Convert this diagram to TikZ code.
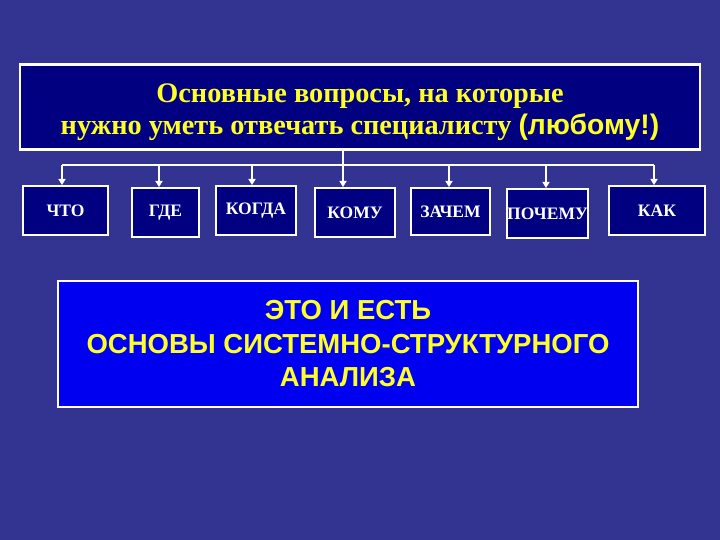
\documentclass[tikz,border=0pt]{standalone}
\usepackage{fontspec}
\setmainfont{Liberation Serif}
\newfontfamily\arialf{Liberation Sans}
\usetikzlibrary{arrows.meta}
\definecolor{bg}{RGB}{51,51,145}
\definecolor{navy}{RGB}{0,0,128}
\definecolor{brightblue}{RGB}{0,0,240}
\definecolor{ylw}{RGB}{255,255,40}
\begin{document}
\begin{tikzpicture}[x=1pt,y=-1pt,
  qbox/.style={draw=white, line width=2pt, fill=navy, text=white, inner sep=0pt,
    font=\bfseries\fontsize{17.5}{20}\selectfont},
  link/.style={draw=white, line width=2pt},
  arr/.style={link, -{Triangle[width=7pt,length=6pt]}}]
\fill[bg] (0,0) rectangle (720,540);
\useasboundingbox (0,0) rectangle (720,540);
\node[draw=white, line width=2.5pt, fill=navy, minimum width=680pt, minimum height=85pt] (top) at (360,107) {};
\node[align=center, text=ylw, inner sep=0pt, font=\bfseries\fontsize{28.3}{32}\selectfont] (title)
  at ([yshift=-5pt]top.center)
  {Основные вопросы, на которые\\нужно уметь отвечать специалисту {\arialf(любому!)}};
\node[qbox, minimum width=85pt, minimum height=49pt] (chto) at (65.5,210.5) {ЧТО};
\node[qbox, minimum width=67pt, minimum height=49pt] (gde) at (165.5,212.5) {ГДЕ};
\node[qbox, minimum width=80pt, minimum height=49pt] (kogda) at (256,210.5) {КОГДА};
\node[qbox, minimum width=80pt, minimum height=49pt] (komu) at (355,212.5) {КОМУ};
\node[qbox, minimum width=79pt, minimum height=47pt] (zachem) at (450.5,211.5) {ЗАЧЕМ};
\node[qbox, minimum width=81pt, minimum height=49pt] (pochemu) at (547.5,213.5) {ПОЧЕМУ};
\node[qbox, minimum width=96pt, minimum height=49pt] (kak) at (657,210.5) {КАК};
\node[draw=white, line width=2.5pt, fill=brightblue, minimum width=580pt, minimum height=126pt,
  align=center, text=ylw, font=\arialf\bfseries\fontsize{27.5}{33.5}\selectfont] (res) at (348,344)
  {ЭТО И ЕСТЬ\\ОСНОВЫ СИСТЕМНО-СТРУКТУРНОГО\\АНАЛИЗА};
\coordinate (a1) at (62,165);
\coordinate (a2) at (159,165);
\coordinate (a3) at (252,165);
\coordinate (a4) at (343,165);
\coordinate (a5) at (449,165);
\coordinate (a6) at (546,165);
\coordinate (a7) at (654,165);
\draw[link] (a1) -- (a7);
\draw[arr] (a4 |- top.south) -- (a4 |- komu.north);
\draw[arr] (a1) -- (a1 |- chto.north);
\draw[arr] (a2) -- (a2 |- gde.north);
\draw[arr] (a3) -- (a3 |- kogda.north);
\draw[arr] (a5) -- (a5 |- zachem.north);
\draw[arr] (a6) -- (a6 |- pochemu.north);
\draw[arr] (a7) -- (a7 |- kak.north);
\end{tikzpicture}
\end{document}
